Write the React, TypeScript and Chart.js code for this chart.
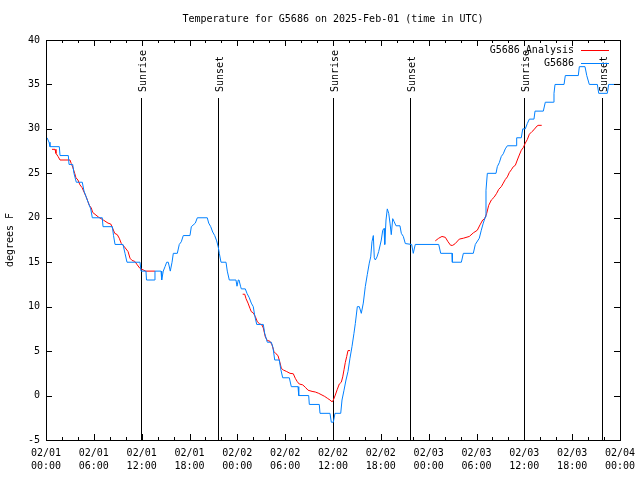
import React, { useEffect, useRef } from "react";
import { Chart, registerables } from "chart.js";

Chart.register(...registerables);

const TITLE = "Temperature for G5686 on 2025-Feb-01 (time in UTC)";
const Y_LABEL = "degrees F";
const DATES = ["02/01", "02/02", "02/03", "02/04"];
const Y_MIN = -5;
const Y_MAX = 40;
const X_MAX_HOURS = 72;

const SUN_LABELS = ["Sunrise", "Sunset", "Sunrise", "Sunset", "Sunrise", "Sunset"];
const SUN_HOURS = [11.92, 21.58, 36.0, 45.67, 59.97, 69.76];

const OBS_NAME = "G5686";
const OBS_HOURS = [
  0.13, 0.38, 0.5, 1.67, 1.76, 2.8, 2.89, 3.35, 3.51, 3.8, 4.55, 4.77, 5.18, 5.61, 5.81, 7.06, 7.15, 8.32, 8.47, 8.66,
  9.66, 9.91, 10.16, 11.79, 11.92, 12.54, 12.61, 13.64, 13.67, 14.43, 14.51, 14.71, 14.93, 15.14, 15.34, 15.59, 15.81,
  15.97, 16.47, 16.72, 16.97, 17.22, 18.06, 18.23, 18.73, 18.98, 20.23, 20.41, 20.66, 20.91, 21.16, 21.41, 21.61, 21.74,
  21.95, 22.58, 22.74, 22.99, 23.83, 23.96, 24.12, 24.21, 24.4, 24.5, 25.0, 25.21, 25.5, 25.75, 26.0, 26.18, 26.43,
  27.26, 27.43, 27.76, 28.26, 28.47, 28.69, 29.26, 29.44, 29.69, 30.52, 30.77, 31.61, 31.7, 32.95, 33.03, 34.28, 34.37,
  35.62, 35.79, 36.04, 36.25, 36.97, 37.13, 37.38, 37.63, 37.88, 38.13, 38.38, 38.63, 38.8, 39.05, 39.3, 39.55, 39.8,
  40.05, 40.3, 40.55, 40.73, 40.89, 41.06, 41.18, 41.31, 41.52, 41.73, 42.06, 42.24, 42.4, 42.49, 42.65, 42.81, 42.99,
  43.15, 43.31, 43.49, 43.65, 43.9, 44.4, 44.57, 44.82, 45.07, 45.87, 46.07, 46.32, 49.26, 49.51, 50.93, 50.97, 52.1,
  52.35, 53.6, 53.85, 54.35, 54.6, 54.85, 55.11, 55.19, 55.36, 56.45, 56.61, 56.86, 57.11, 57.36, 57.61, 57.87, 58.96,
  59.04, 59.62, 59.8, 60.12, 60.37, 60.63, 61.21, 61.34, 62.38, 62.63, 63.64, 63.72, 63.85, 64.98, 65.14, 66.77, 66.9,
  67.61, 67.83, 68.15, 69.16, 69.33, 70.41, 70.58, 72.0,
];
const OBS_TEMPS = [
  29, 28.5, 28, 28, 27, 27, 26, 26, 25, 24, 24, 23, 22, 21, 20, 20, 19, 19, 18, 17,
  17, 16, 15, 15, 14, 14, 13, 13, 14, 14, 13, 14, 14.5, 15, 15, 14, 15,
  16, 16, 17, 17.3, 18, 18, 19, 19.4, 20, 20, 19.4, 19, 18.4, 18, 17.4, 16.7, 16,
  15, 15, 14, 13, 13, 12.3, 13, 13, 12.3, 12, 12, 11.5, 11, 10.4, 10, 9, 8,
  8, 7, 6, 6, 5.4, 4, 4, 3, 2, 2, 1, 1, 0, 0, -1, -1, -2,
  -2, -3, -3, -2, -2, -0.5, 0.6, 1.75, 2.7, 4.2, 5.5, 7, 8.1, 10, 10, 9.25, 10.4,
  12.25, 13.6, 14.9, 15.6, 17.3, 18, 15.5, 15.25, 15.6, 16.2, 17.5, 18.6, 18.8, 17, 19.75, 21, 20.5,
  19.4, 18.1, 19.9, 19.6, 19.1, 19.1, 18.25, 17.9, 17.1, 17, 16, 17, 17, 16, 16, 15, 15,
  16, 16, 17, 17.7, 18.6, 19.4, 20.1, 23.1, 25, 25, 25.75, 26.2, 26.9, 27.2, 27.75, 28.1, 28.1,
  29, 29, 30, 30, 30.6, 31.1, 31.1, 32, 32, 33, 33, 34, 35, 35, 36, 36, 37,
  37, 36, 35, 35, 34, 34, 35, 35,
];

const ANA_NAME = "G5686 Analysis";
// null marks a gap in the analysis series
const ANA_HOURS = [
  0.75, 1.13, 1.25, 1.51, 1.76, 3.01, 3.17, 3.35, 3.6, 3.76, 4.01, 4.26, 4.52, 4.77, 5.02, 5.27, 5.43, 5.68, 5.86, 6.27,
  6.61, 7.19, 7.78, 8.12, 8.37, 8.62, 8.94, 9.19, 9.45, 9.78, 10.29, 10.54, 10.79, 11.13, 11.45, 11.79, 12.04, 12.51, 13.67,
  14.0,
  24.67, 24.93, 25.09, 25.34, 25.59, 25.75, 26.0, 26.25, 26.51, 26.76, 27.09, 27.26, 27.51, 27.76, 28.1, 28.35, 28.6, 28.85,
  29.1, 29.35, 29.52, 29.77, 30.19, 30.61, 31.02, 31.27, 31.52, 31.77, 32.2, 32.53, 32.87, 33.37, 33.78, 34.21, 34.62,
  34.96, 35.29, 35.62, 35.88, 36.0, 36.29, 36.54, 36.79, 37.04, 37.22, 37.38, 37.54, 37.72, 37.88, 38.13,
  40.0,
  48.83, 49.26, 49.67, 50.09, 50.43, 50.76, 51.02, 51.34, 51.84, 52.35, 53.1, 53.6, 54.1, 54.44, 54.78, 55.03, 55.28,
  55.53, 55.86, 56.2, 56.53, 56.79, 57.11, 57.36, 57.61, 57.87, 58.12, 58.37, 58.62, 58.87, 59.12, 59.37, 59.62, 59.87,
  60.12, 60.37, 60.63, 60.96, 61.21, 61.46, 61.72, 62.18,
];
const ANA_TEMPS = [
  27.7, 27.7, 27.25, 26.9, 26.5, 26.5, 26.1, 25.7, 25, 24.5, 24.25, 23.7, 23.4, 22.9, 22.4, 21.8, 21.4, 21.1, 20.6, 20.3,
  20.06, 19.75, 19.4, 19.3, 18.8, 18.25, 18.1, 17.7, 17.1, 16.8, 16.2, 15.45, 15.2, 15.1, 14.7, 14.3, 14.2, 14, 14,
  null,
  11.4, 11.4, 10.9, 10.4, 9.8, 9.44, 9.3, 8.9, 8.3, 8.1, 7.94, 7.6, 6.6, 6.2, 6.1, 5.7, 4.94, 4.7,
  4.5, 3.7, 3.06, 2.875, 2.7, 2.5, 2.45, 1.94, 1.56, 1.3, 1.2, 0.93, 0.6, 0.47, 0.4, 0.25, 0.06,
  -0.1, -0.3, -0.5, -0.7, -0.6, 0.06, 0.7, 1.3, 1.5, 2.1, 2.9, 3.7, 4.4, 5.06, 5.06,
  null,
  17.4, 17.7, 17.9, 17.8, 17.3, 16.9, 16.9, 17.1, 17.6, 17.7, 17.9, 18.3, 18.6, 19.2, 19.75, 19.9, 20.5,
  21.4, 22, 22.3, 22.75, 23.2, 23.5, 23.9, 24.3, 24.6, 25.1, 25.4, 25.75, 25.9, 26.5, 27.06, 27.6, 27.9,
  28.4, 28.8, 29.4, 29.7, 29.9, 30.2, 30.4, 30.4,
];

const FONT = "'DejaVu Sans Mono', 'Liberation Mono', monospace";
const OBS_COLOR = "rgb(0,128,255)";
const ANA_COLOR = "rgb(255,0,0)";

const decorPlugin = {
  id: "gnuplotDecor",
  beforeDatasetsDraw(chart: any) {
    const { ctx, chartArea, scales } = chart;
    const xs = scales.x;
    ctx.save();
    ctx.strokeStyle = "#000";
    ctx.lineWidth = 1;
    ctx.fillStyle = "#000";
    ctx.font = `10px ${FONT}`;
    SUN_HOURS.forEach((h, i) => {
      const px = Math.round(xs.getPixelForValue(h)) + 0.5;
      ctx.beginPath();
      ctx.moveTo(px, chartArea.top + 58);
      ctx.lineTo(px, chartArea.bottom);
      ctx.stroke();
      ctx.save();
      ctx.translate(px + 1.5, chartArea.top + 52);
      ctx.rotate(-Math.PI / 2);
      ctx.textAlign = "left";
      ctx.textBaseline = "middle";
      ctx.fillText(SUN_LABELS[i], 0, 0);
      ctx.restore();
    });
    ctx.restore();
  },
  afterDraw(chart: any) {
    const { ctx, chartArea, scales } = chart;
    const xs = scales.x;
    const ys = scales.y;
    const { left, right, top, bottom } = chartArea;
    ctx.save();
    ctx.strokeStyle = "#000";
    ctx.lineWidth = 1;
    // border
    ctx.strokeRect(Math.round(left) + 0.5, Math.round(top) + 0.5, Math.round(right - left), Math.round(bottom - top));
    // ticks (inward on all four sides)
    ctx.beginPath();
    for (let h = 0; h <= X_MAX_HOURS; h += 2) {
      const px = Math.round(xs.getPixelForValue(h)) + 0.5;
      const len = h % 6 === 0 ? 6 : 3;
      ctx.moveTo(px, bottom);
      ctx.lineTo(px, bottom - len);
      ctx.moveTo(px, top);
      ctx.lineTo(px, top + len);
    }
    for (let v = Y_MIN; v <= Y_MAX; v += 5) {
      const py = Math.round(ys.getPixelForValue(v)) + 0.5;
      ctx.moveTo(left, py);
      ctx.lineTo(left + 6, py);
      ctx.moveTo(right, py);
      ctx.lineTo(right - 6, py);
    }
    ctx.stroke();

    ctx.fillStyle = "#000";
    ctx.font = `10px ${FONT}`;
    // title, centred over the plot area
    ctx.textAlign = "center";
    ctx.textBaseline = "middle";
    ctx.fillText(TITLE, (left + right) / 2, 19);
    // y label
    ctx.save();
    ctx.translate(10, (top + bottom) / 2);
    ctx.rotate(-Math.PI / 2);
    ctx.textAlign = "center";
    ctx.textBaseline = "middle";
    ctx.fillText(Y_LABEL, 0, 0);
    ctx.restore();
    // legend
    const entries = [
      { name: ANA_NAME, color: ANA_COLOR },
      { name: OBS_NAME, color: OBS_COLOR },
    ];
    entries.forEach((e, i) => {
      const y = top + 10 + i * 13;
      ctx.textAlign = "right";
      ctx.textBaseline = "middle";
      ctx.fillStyle = "#000";
      ctx.fillText(e.name, right - 46, y);
      ctx.strokeStyle = e.color;
      ctx.beginPath();
      ctx.moveTo(right - 39, Math.round(y) + 0.5);
      ctx.lineTo(right - 11, Math.round(y) + 0.5);
      ctx.stroke();
    });
    ctx.restore();
  },
};

export default function App() {
  const canvasRef = useRef<HTMLCanvasElement | null>(null);

  useEffect(() => {
    const canvas = canvasRef.current;
    if (!canvas) return;
    const obsData = OBS_HOURS.map((h, i) => ({ x: h, y: OBS_TEMPS[i] }));
    const anaData = ANA_HOURS.map((h, i) => ({ x: h, y: ANA_TEMPS[i] }));
    const chart = new Chart(canvas, {
      type: "line",
      data: {
        datasets: [
          {
            label: OBS_NAME,
            data: obsData as any,
            borderColor: OBS_COLOR,
            borderWidth: 1,
            pointRadius: 0,
            tension: 0,
            fill: false,
            order: 0,
          },
          {
            label: ANA_NAME,
            data: anaData as any,
            borderColor: ANA_COLOR,
            borderWidth: 1,
            pointRadius: 0,
            tension: 0,
            fill: false,
            spanGaps: false,
            order: 1,
          },
        ],
      },
      options: {
        animation: false,
        responsive: false,
        maintainAspectRatio: false,
        devicePixelRatio: 1,
        layout: { padding: { left: 0, top: 40, right: 20, bottom: 0 } },
        plugins: {
          legend: { display: false },
          tooltip: { enabled: false },
          title: { display: false },
        },
        scales: {
          x: {
            type: "linear",
            min: 0,
            max: X_MAX_HOURS,
            grid: { display: false, drawTicks: false },
            border: { display: false },
            afterFit: (scale: any) => {
              scale.height = 40;
              scale.paddingLeft = 0;
              scale.paddingRight = 0;
            },
            ticks: {
              stepSize: 6,
              autoSkip: false,
              maxRotation: 0,
              minRotation: 0,
              padding: 7,
              color: "#000",
              font: { family: FONT, size: 10, lineHeight: 1.3 },
              callback: (value: any) => {
                const v = Number(value);
                const d = Math.floor(v / 24);
                const hh = v % 24;
                return [DATES[d], String(hh).padStart(2, "0") + ":00"];
              },
            },
          },
          y: {
            type: "linear",
            min: Y_MIN,
            max: Y_MAX,
            grid: { display: false, drawTicks: false },
            border: { display: false },
            afterFit: (scale: any) => {
              scale.width = 46;
              scale.paddingTop = 0;
              scale.paddingBottom = 0;
            },
            ticks: {
              stepSize: 5,
              padding: 6,
              color: "#000",
              font: { family: FONT, size: 10 },
            },
          },
        },
      },
      plugins: [decorPlugin],
    });
    return () => chart.destroy();
  }, []);

  return (
    <div style={{ position: "absolute", left: 0, top: 0, width: 640, height: 480, background: "#fff" }}>
      <canvas ref={canvasRef} width={640} height={480} />
    </div>
  );
}
